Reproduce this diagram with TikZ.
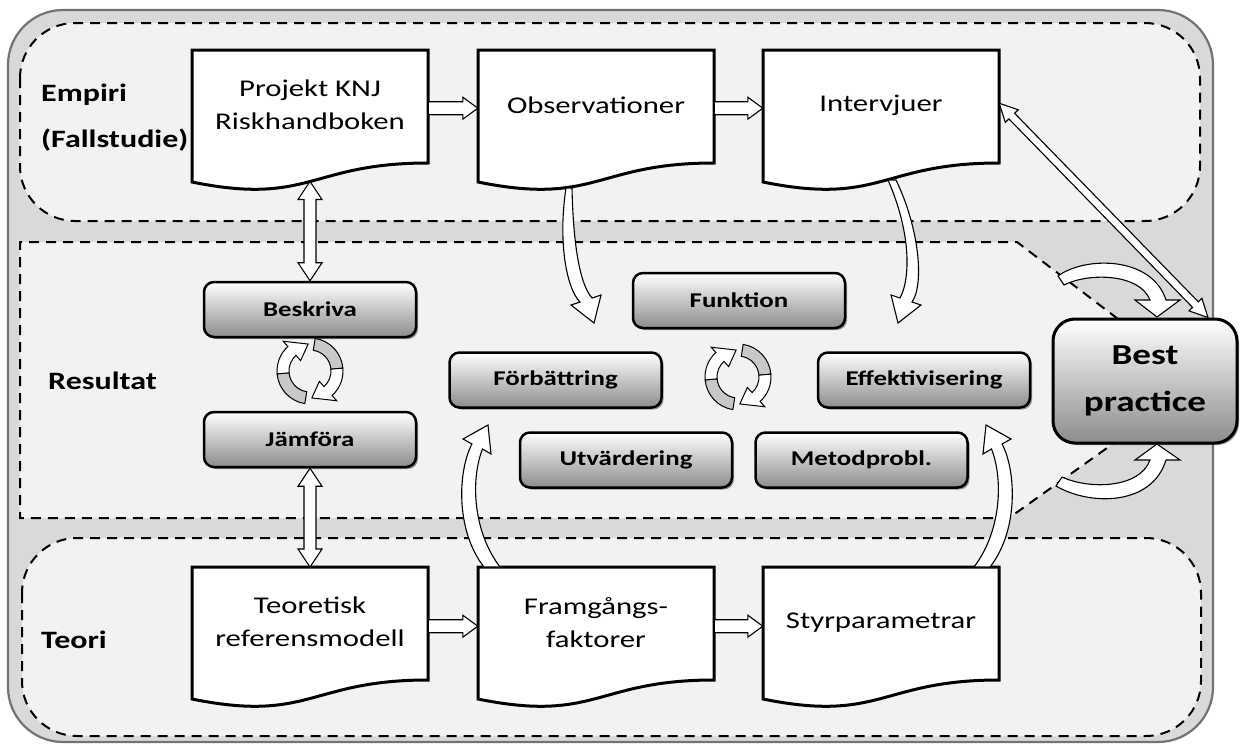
\documentclass[tikz,border=0pt]{standalone}
\usepackage{fontspec}
\setmainfont[FakeStretch=1.28]{Carlito}
\usetikzlibrary{calc,shadows}
\definecolor{outerfill}{HTML}{D9D9D9}
\definecolor{regfill}{HTML}{F2F2F2}
\definecolor{cycgray}{HTML}{C8C8C8}
\tikzset{
  region/.style={draw=black, dash pattern=on 10pt off 7pt, line width=2pt, fill=regfill},
  doc/.style={draw=black, line width=3pt, fill=white, line join=miter},
  doctext/.style={minimum width=236pt, minimum height=110pt, inner sep=0pt, align=center,
     font=\fontsize{24}{33}\selectfont, anchor=north},
  gbox/.style={draw=black, line width=2.5pt, rounded corners=10pt, top color=white,
     bottom color=black!45, minimum width=212pt, minimum height=55pt, inner sep=0pt,
     font=\bfseries\fontsize{21}{25}\selectfont,
     drop shadow={shadow xshift=2pt, shadow yshift=-2pt, opacity=0.6, fill=black!70}},
  blk/.style={draw=black, line width=1.1pt, fill=white, line join=miter},
  sidelabel/.style={font=\bfseries\fontsize{25}{46}\selectfont, align=left, anchor=west, inner sep=0pt},
}
\newcommand\docbox[4]{%
  \coordinate (#1-tl) at (#2,#3);
  \draw[doc] (#1-tl) -- ++(236,0) -- ++(0,113)
     .. controls ($(#1-tl)+(118,113)$) and ($(#1-tl)+(118,156)$) .. ($(#1-tl)+(0,132)$) -- cycle;
  \node[doctext] (#1) at ($(#1-tl)+(118,0)$) {#4};
}
\newcommand\blockarr[5]{%
  \path (#1) coordinate (bS) (#2) coordinate (bE);
  \path ($(bE)!#5!(bS)$) coordinate (bH);
  \draw[blk] ($(bS)!#3!90:(bE)$) -- ($(bH)!#3!-90:(bS)$) -- ($(bH)!#4!-90:(bS)$) -- (bE)
     -- ($(bH)!#4!90:(bS)$) -- ($(bH)!#3!90:(bS)$) -- ($(bS)!#3!-90:(bE)$) -- cycle;
}
\newcommand\dblarr[5]{%
  \path (#1) coordinate (bS) (#2) coordinate (bE);
  \path ($(bS)!#5!(bE)$) coordinate (bHa) ($(bE)!#5!(bS)$) coordinate (bHb);
  \draw[blk] (bS) -- ($(bHa)!#4!90:(bE)$) -- ($(bHa)!#3!90:(bE)$) -- ($(bHb)!#3!-90:(bS)$)
     -- ($(bHb)!#4!-90:(bS)$) -- (bE) -- ($(bHb)!#4!90:(bS)$) -- ($(bHb)!#3!90:(bS)$)
     -- ($(bHa)!#3!-90:(bE)$) -- ($(bHa)!#4!-90:(bE)$) -- cycle;
}
\newcommand\cycleicon[1]{%
  \begin{scope}[shift={(#1)}, line width=1pt]
    \filldraw[fill=cycgray, draw=black] (99:33) arc[start angle=99, end angle=175, radius=33]
       -- (175:21) arc[start angle=175, end angle=99, radius=21] -- cycle;
    \filldraw[fill=white, draw=black] (175:33) arc[start angle=175, end angle=228, radius=33]
       -- (228:40) -- (266:27) -- (228:14) -- (228:21) arc[start angle=228, end angle=175, radius=21] -- cycle;
    \filldraw[fill=cycgray, draw=black] (279:33) arc[start angle=279, end angle=355, radius=33]
       -- (355:21) arc[start angle=355, end angle=279, radius=21] -- cycle;
    \filldraw[fill=white, draw=black] (355:33) arc[start angle=355, end angle=408, radius=33]
       -- (408:40) -- (446:27) -- (408:14) -- (408:21) arc[start angle=408, end angle=355, radius=21] -- cycle;
  \end{scope}
}
\begin{document}
\begin{tikzpicture}[x=1pt, y=-1pt]
\useasboundingbox (0,0) rectangle (1240,747);
\fill[white] (0,0) rectangle (1240,747);
% outer frame
\draw[draw=black!55, line width=2.2pt, fill=outerfill, rounded corners=55pt] (8,10) rectangle (1213,742);
% regions
\draw[region, rounded corners=55pt] (20,23) rectangle (1200,221);
\draw[region, rounded corners=55pt] (22,538) rectangle (1201,736);
\fill[regfill] (20,242) -- (1017,242) -- (1118,319) -- (1114,443) -- (1009,518) -- (20,518) -- cycle;
\draw[region, fill=none] (1118,319) -- (1017,242) -- (20,242) -- (20,518) -- (1009,518) -- (1114,443);
% side labels
\node[sidelabel] (emp) at (41,118) {Empiri\\(Fallstudie)};
\node[sidelabel] (res) at (48,381) {Resultat};
\node[sidelabel] (teol) at (41,640) {Teori};
% documents
\docbox{proj}{192}{50}{Projekt KNJ\\Riskhandboken}
\docbox{obs}{478}{50}{Observationer}
\docbox{intv}{763}{50}{Intervjuer}
\docbox{teo}{192}{567}{Teoretisk\\referensmodell}
\docbox{fram}{478}{567}{Framgångs-\\faktorer}
\docbox{styr}{763}{567}{Styrparametrar}
% result boxes
\node[gbox] (besk) at (310,309.5) {Beskriva};
\node[gbox] (jam) at (310,439.5) {Jämföra};
\node[gbox] (forb) at (555.5,380) {Förbättring};
\node[gbox] (utv) at (626,460) {Utvärdering};
\node[gbox] (funk) at (739,300.5) {Funktion};
\node[gbox] (eff) at (924,380) {Effektivisering};
\node[gbox] (met) at (861.5,460) {Metodprobl.};
\node[gbox, minimum width=184pt, minimum height=124pt, rounded corners=22pt, line width=3pt,
      font=\bfseries\fontsize{29}{47}\selectfont, align=center] (best) at (1145,381) {Best\\practice};
% straight block arrows
\blockarr{$(proj.east)+(0,3)$}{$(obs.west)+(0,3)$}{6.5pt}{11pt}{15pt}
\blockarr{$(obs.east)+(0,3)$}{$(intv.west)+(0,3)$}{6.5pt}{11pt}{15pt}
\blockarr{$(teo.east)+(0,4)$}{$(fram.west)+(0,4)$}{6.5pt}{11pt}{15pt}
\blockarr{$(fram.east)+(0,4)$}{$(styr.west)+(0,4)$}{6.5pt}{11pt}{15pt}
\coordinate (projw) at ($(proj-tl)+(118,131.5)$);
\dblarr{projw}{besk.north}{6pt}{12pt}{18pt}
\dblarr{jam.south}{teo.north}{6pt}{12pt}{18pt}
\dblarr{$(intv.east)+(0,-2)$}{$(best.north)+(63,0)$}{4pt}{9pt}{18pt}
% cycle icons
\coordinate (cyA) at (310,371);
\coordinate (cyB) at (738,377);
\cycleicon{cyA}
\cycleicon{cyB}
% curved arrows
\draw[blk] (566,188) .. controls (558,240) and (566,288) .. (580,302) -- (571,305) -- (594,323)
   -- (601,295) -- (592,298) .. controls (578,282) and (573,235) .. (572,188) -- cycle;
\draw[blk] (888,180) .. controls (912,235) and (910,280) .. (900,298) -- (891,295) -- (898,323)
   -- (921,305) -- (912,302) .. controls (924,285) and (920,230) .. (896,180) -- cycle;
\draw[blk] (484,567) .. controls (455,530) and (458,470) .. (472,444) -- (463,439) -- (488,425)
   -- (491,454) -- (482.5,449) .. controls (471,478) and (472,530) .. (500,567) -- cycle;
\begin{scope}[shift={(1474,0)}, xscale=-1]
\draw[blk] (484,567) .. controls (455,530) and (458,470) .. (472,444) -- (463,439) -- (488,425)
   -- (491,454) -- (482.5,449) .. controls (471,478) and (472,530) .. (500,567) -- cycle;
\end{scope}
\draw[blk] (1058,276) .. controls (1085,256) and (1152,256) .. (1166,300) -- (1180,300) -- (1157,317)
   -- (1135,300) -- (1150,300) .. controls (1140,274) and (1090,272) .. (1064,285) -- cycle;
\draw[blk] (1056,486) .. controls (1090,506) and (1152,506) .. (1166,460) -- (1180,460) -- (1157,444)
   -- (1135,460) -- (1150,460) .. controls (1140,488) and (1090,490) .. (1062,477) -- cycle;
\end{tikzpicture}
\end{document}
